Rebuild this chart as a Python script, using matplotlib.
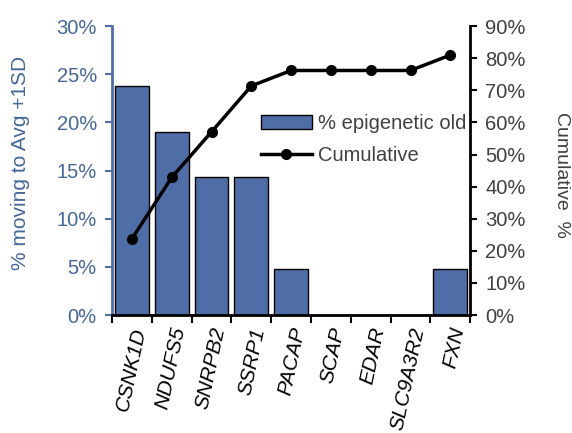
import matplotlib
matplotlib.use('Agg')
import matplotlib.pyplot as plt
from matplotlib.ticker import FuncFormatter
import numpy as np

# data
genes = ['CSNK1D', 'NDUFS5', 'SNRPB2', 'SSRP1', 'PACAP', 'SCAP', 'EDAR', 'SLC9A3R2', 'FXN']
pct_old = [23.8, 19.0, 14.3, 14.3, 4.76, 0, 0, 0, 4.76]
cumulative = [23.8, 42.9, 57.1, 71.4, 76.2, 76.2, 76.2, 76.2, 81.0]

blue = '#4f6ea8'
text_blue = '#44679b'
grey = '#404040'

plt.rcParams['font.family'] = ['Liberation Sans', 'DejaVu Sans']

fig = plt.figure(figsize=(5.72, 4.33), dpi=100)
ax = fig.add_axes([0.196, 0.2725, 0.626, 0.667])
ax2 = ax.twinx()

x = np.arange(len(genes))
b = ax.bar(x, pct_old, width=0.85, color=blue, edgecolor='black', linewidth=1,
           label='% epigenetic old', zorder=2)
ln, = ax2.plot(x, cumulative, color='black', lw=2.5, marker='o', markersize=7,
               label='Cumulative', zorder=3)

ax.set_xlim(-0.5, len(genes) - 0.5)
ax.set_ylim(0, 30)
ax2.set_ylim(0, 90)
ax.set_yticks(np.arange(0, 31, 5))
ax2.set_yticks(np.arange(0, 91, 10))
pf = FuncFormatter(lambda v, p: f'{v:.0f}%')
ax.yaxis.set_major_formatter(pf)
ax2.yaxis.set_major_formatter(pf)

# category ticks between bars, labels centred
ax.set_xticks(np.arange(-0.5, len(genes), 1))
ax.set_xticklabels([])
ax.set_xticks(x + 0.2, minor=True)
ax.set_xticklabels(genes, minor=True, rotation=78, style='italic', fontsize=15,
                   color='black', ha='right', va='center',
                   rotation_mode='anchor')
ax.tick_params(axis='x', which='minor', length=0, pad=9)
ax.tick_params(axis='x', which='major', length=6, width=1.5, direction='out')

ax.tick_params(axis='y', colors=blue, labelcolor=text_blue, labelsize=14.5,
               length=5, width=1.5, pad=6)
ax2.tick_params(axis='y', colors='black', labelcolor=grey, labelsize=14.5,
                length=5, width=1.5, pad=6)

ax.spines['top'].set_visible(False)
ax2.spines['top'].set_visible(False)
ax.spines['right'].set_visible(False)
ax2.spines['left'].set_visible(False)
ax.spines['left'].set_color(blue)
ax.spines['left'].set_linewidth(2)
ax2.spines['right'].set_linewidth(2)
ax.spines['bottom'].set_linewidth(2)

ax.set_ylabel('% moving to Avg +1SD', color=text_blue, fontsize=15,
              va='center')
ax.yaxis.set_label_coords(-0.257, 0.526)
ax2.set_ylabel('Cumulative  %', color=grey, fontsize=14, rotation=-90,
               va='center')
ax2.yaxis.set_label_coords(1.255, 0.484)

fig.legend([b, ln], ['% epigenetic old', 'Cumulative'], loc='upper left',
           bbox_to_anchor=(0.425, 0.778), frameon=False, fontsize=14.5,
           handlelength=2.5, handletextpad=0.3, labelspacing=0.65,
           labelcolor=grey)

fig.savefig('out.png', dpi=100)
